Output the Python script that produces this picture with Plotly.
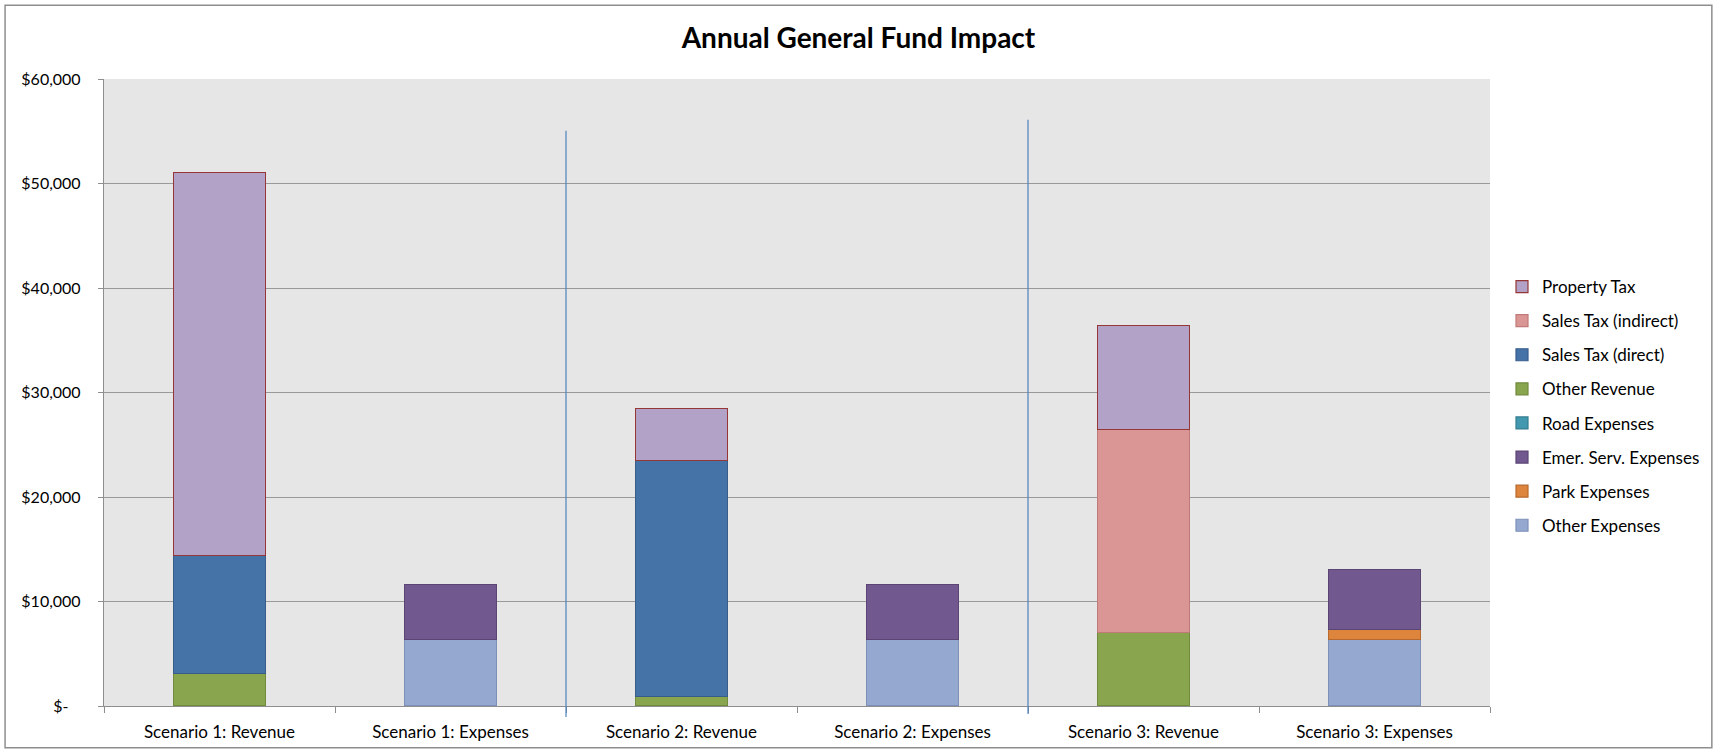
import plotly.graph_objects as go

categories = ["Scenario 1: Revenue", "Scenario 1: Expenses", "Scenario 2: Revenue",
              "Scenario 2: Expenses", "Scenario 3: Revenue", "Scenario 3: Expenses"]

# series in Excel order (bottom of stack first); None = no segment
other_expenses   = [None, 6380, None, 6380, None, 6380]
park_expenses    = [None, None, None, None, None, 950]
emer_expenses    = [None, 5220, None, 5220, None, 5750]
road_expenses    = [None, None, None, None, None, None]
other_revenue    = [3110, None, 920, None, 7050, None]
sales_direct     = [11330, None, 22600, None, None, None]
sales_indirect   = [None, None, None, None, 19400, None]
property_tax     = [36650, None, 4920, None, 10000, None]

y_tickvals = [0, 10000, 20000, 30000, 40000, 50000, 60000]
y_ticktext = ["$-\u00a0\u00a0\u00a0", "$10,000", "$20,000", "$30,000", "$40,000", "$50,000", "$60,000"]

series = [
    ("Other Expenses", other_expenses, "#95A9D0", "#7D90B8"),
    ("Park Expenses", park_expenses, "#DD843D", "#B86A2E"),
    ("Emer. Serv. Expenses", emer_expenses, "#71588F", "#5A4575"),
    ("Road Expenses", road_expenses, "#4198AF", "#357D91"),
    ("Other Revenue", other_revenue, "#89A54E", "#718B3E"),
    ("Sales Tax (direct)", sales_direct, "#4572A7", "#385D8A"),
    ("Sales Tax (indirect)", sales_indirect, "#DA9694", "#C07A78"),
    ("Property Tax", property_tax, "#B2A2C7", "#953735"),
]

FONT = "Lato"
W, H = 1717, 754
L, R, T, B = 104, 1491, 79, 709

fig = go.Figure()
n = len(series)
for i, (name, vals, fill, line) in enumerate(series):
    fig.add_trace(go.Bar(
        x=categories, y=vals, name=name, legendgroup=name, legendrank=(n - i) * 10,
        marker=dict(color=fill, line=dict(color=line, width=1.2)),
        width=0.4,
    ))

def px_to_paper_x(px):
    return (px - L) / (R - L)

def py_to_paper_y(py):
    return (B - py) / (B - T)

shapes = [
    dict(type="rect", xref="paper", yref="paper",
         x0=px_to_paper_x(5), x1=px_to_paper_x(1713),
         y0=py_to_paper_y(751), y1=py_to_paper_y(5),
         line=dict(color="#8E8E8E", width=1.5), fillcolor="rgba(0,0,0,0)", layer="below"),
    dict(type="line", xref="x", yref="paper", x0=1.5, x1=1.5,
         y0=py_to_paper_y(720), y1=py_to_paper_y(131),
         line=dict(color="#4F81BD", width=1.2)),
    dict(type="line", xref="x", yref="paper", x0=3.5, x1=3.5,
         y0=py_to_paper_y(717), y1=py_to_paper_y(120),
         line=dict(color="#4F81BD", width=1.2)),
]

fig.update_layout(
    width=W, height=H,
    barmode="stack",
    paper_bgcolor="white",
    plot_bgcolor="#E6E6E6",
    margin=dict(l=L, r=W - R, t=T, b=H - B, pad=0),
    font=dict(family=FONT, size=17, color="#000000"),
    title=dict(text="<b>Annual General Fund Impact</b>", x=0.5, xref="container",
               y=1 - 38 / H, yref="container", xanchor="center", yanchor="middle",
               font=dict(family=FONT, size=28, color="#000000")),
    showlegend=True,
    legend=dict(xref="container", yref="container", x=1502 / W, y=1 - 269 / H,
                xanchor="left", yanchor="top", traceorder="grouped",
                tracegroupgap=9, font=dict(family=FONT, size=17, color="#000000"),
                bgcolor="rgba(0,0,0,0)", itemwidth=30),
    shapes=shapes,
    bargap=0.6,
)

fig.update_xaxes(
    showgrid=False, showline=True, linecolor="#8E8E8E", linewidth=1.3,
    ticks="outside", tickson="boundaries", ticklen=6, tickcolor="#8E8E8E",
    tickfont=dict(family=FONT, size=17), ticklabelstandoff=10,
)
fig.update_yaxes(
    range=[0, 60000], tickvals=y_tickvals, ticktext=y_ticktext,
    showgrid=True, gridcolor="#999999", gridwidth=1.3,
    showline=True, linecolor="#8E8E8E", linewidth=1.3,
    ticks="outside", ticklen=5, tickcolor="#8E8E8E",
    tickfont=dict(family=FONT, size=16), ticklabelstandoff=14,
    zeroline=False,
)

fig.write_html("out.html", config={"displayModeBar": False},
               post_script="document.body.style.margin='0';")
